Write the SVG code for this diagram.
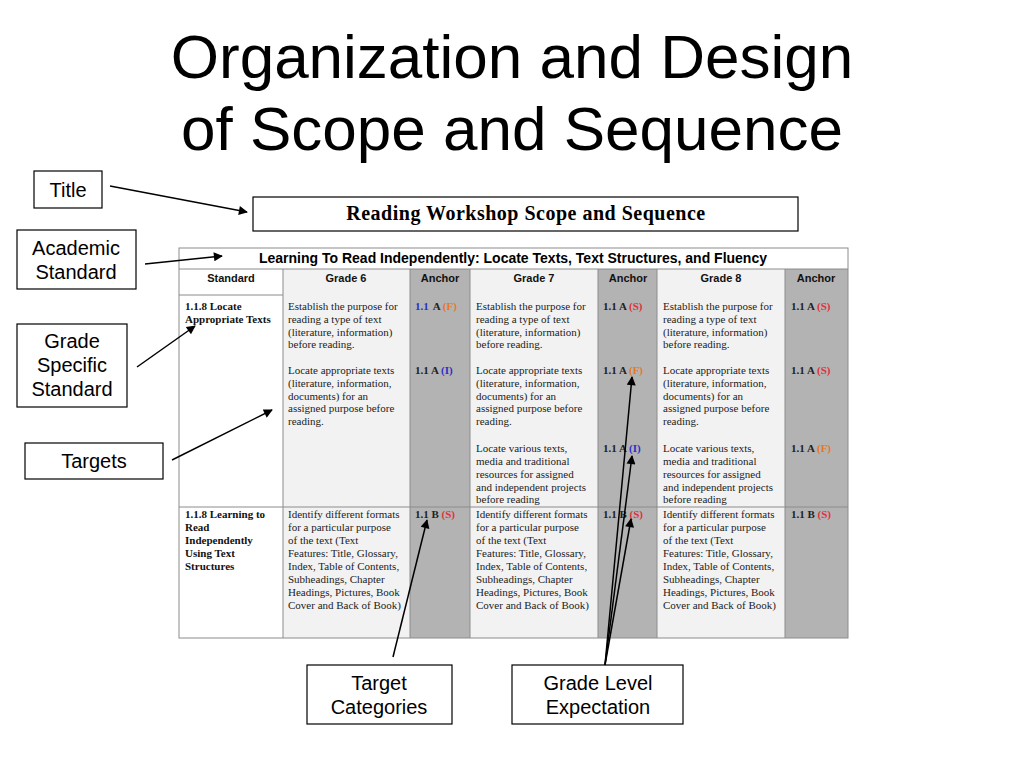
<svg xmlns="http://www.w3.org/2000/svg" width="1024" height="768" viewBox="0 0 1024 768">
<style>
.lbl{font-family:"Liberation Sans",Arial,sans-serif;font-size:20px;fill:#000;text-anchor:middle}
.box{fill:#fff;stroke:#000;stroke-width:1.2}
.body{font-family:"Liberation Serif","Times New Roman",serif;font-size:11px;fill:#222}
.std{font-family:"Liberation Serif","Times New Roman",serif;font-size:11px;font-weight:bold;fill:#111}
.anc{font-family:"Liberation Serif","Times New Roman",serif;font-size:11px;font-weight:bold;fill:#222}
.hdr{font-family:"Liberation Sans",Arial,sans-serif;font-size:11px;font-weight:bold;fill:#111;text-anchor:middle}
.grid{stroke:#8c8c8c;stroke-width:1;fill:none}
.conn{stroke:#000;stroke-width:1.5;fill:none}
.F{fill:#e8772a}.S{fill:#e0303a}.I{fill:#2a30c8}
</style>
<defs>
<marker id="ah" viewBox="0 0 10 10" refX="9" refY="5" markerWidth="11" markerHeight="9" markerUnits="userSpaceOnUse" orient="auto">
<path d="M0,0 L10,5 L0,10 z" fill="#000"/>
</marker>
</defs>
<rect width="1024" height="768" fill="#fff"/>

<g id="heading">
<text x="512" y="78" font-family="Liberation Sans,Arial,sans-serif" font-size="62" text-anchor="middle">Organization and Design</text>
<text x="512" y="150" font-family="Liberation Sans,Arial,sans-serif" font-size="62" text-anchor="middle">of Scope and Sequence</text>
</g>

<g id="title-box">
<rect x="253" y="197" width="545" height="34" class="box"/>
<text x="526" y="220" font-family="Liberation Serif,Times New Roman,serif" font-size="20" font-weight="bold" letter-spacing="0.5" text-anchor="middle">Reading Workshop Scope and Sequence</text>
</g>

<g id="table">
<rect x="179" y="248" width="669" height="390" fill="#fff"/>
<rect x="283" y="269" width="127" height="369" fill="#f2f2f2"/>
<rect x="410" y="269" width="60" height="369" fill="#b3b3b3"/>
<rect x="470" y="269" width="128" height="369" fill="#f2f2f2"/>
<rect x="598" y="269" width="59" height="369" fill="#b3b3b3"/>
<rect x="657" y="269" width="128" height="369" fill="#f2f2f2"/>
<rect x="785" y="269" width="63" height="369" fill="#b3b3b3"/>
<rect x="179" y="248" width="669" height="390" class="grid"/>
<line x1="179" y1="269" x2="848" y2="269" class="grid"/>
<line x1="179" y1="295" x2="283" y2="295" class="grid"/>
<line x1="179" y1="507" x2="848" y2="507" class="grid"/>
<line x1="283" y1="269" x2="283" y2="638" class="grid"/>
<line x1="410" y1="269" x2="410" y2="638" class="grid"/>
<line x1="470" y1="269" x2="470" y2="638" class="grid"/>
<line x1="598" y1="269" x2="598" y2="638" class="grid"/>
<line x1="657" y1="269" x2="657" y2="638" class="grid"/>
<line x1="785" y1="269" x2="785" y2="638" class="grid"/>

<text x="513" y="263" font-family="Liberation Sans,Arial,sans-serif" font-size="14" font-weight="bold" text-anchor="middle">Learning To Read Independently: Locate Texts, Text Structures, and Fluency</text>
<text x="231" y="282" class="hdr">Standard</text>
<text x="346" y="282" class="hdr">Grade 6</text>
<text x="440" y="282" class="hdr">Anchor</text>
<text x="534" y="282" class="hdr">Grade 7</text>
<text x="628" y="282" class="hdr">Anchor</text>
<text x="721" y="282" class="hdr">Grade 8</text>
<text x="816" y="282" class="hdr">Anchor</text>

<g id="col-standard">
<text class="std" x="185" y="310">1.1.8 Locate</text>
<text class="std" x="185" y="323">Appropriate Texts</text>
<text class="std" x="185" y="518">1.1.8  Learning to</text>
<text class="std" x="185" y="531">Read</text>
<text class="std" x="185" y="544">Independently</text>
<text class="std" x="185" y="557">Using Text</text>
<text class="std" x="185" y="570">Structures</text>
</g>

<g id="col-grade6" class="body">
<text x="288" y="310">Establish the purpose for</text>
<text x="288" y="323">reading a type of text</text>
<text x="288" y="336">(literature, information)</text>
<text x="288" y="348">before reading.</text>
<text x="288" y="374">Locate appropriate texts</text>
<text x="288" y="387">(literature, information,</text>
<text x="288" y="400">documents) for an</text>
<text x="288" y="412">assigned purpose before</text>
<text x="288" y="425">reading.</text>
<text x="288" y="518">Identify different formats</text>
<text x="288" y="531">for a particular purpose</text>
<text x="288" y="544">of the text (Text</text>
<text x="288" y="557">Features: Title, Glossary,</text>
<text x="288" y="570">Index, Table of Contents,</text>
<text x="288" y="583">Subheadings, Chapter</text>
<text x="288" y="596">Headings, Pictures, Book</text>
<text x="288" y="609">Cover and Back of Book)</text>
</g>

<g id="col-anchor6" class="anc">
<text x="415" y="310"><tspan class="I">1.1</tspan><tspan dx="4">A </tspan><tspan class="F">(F)</tspan></text>
<text x="415" y="374">1.1 A <tspan class="I">(I)</tspan></text>
<text x="415" y="518">1.1 B <tspan class="S">(S)</tspan></text>
</g>

<g id="col-grade7" class="body">
<text x="476" y="310">Establish the purpose for</text>
<text x="476" y="323">reading a type of text</text>
<text x="476" y="336">(literature, information)</text>
<text x="476" y="348">before reading.</text>
<text x="476" y="374">Locate appropriate texts</text>
<text x="476" y="387">(literature, information,</text>
<text x="476" y="400">documents) for an</text>
<text x="476" y="412">assigned purpose before</text>
<text x="476" y="425">reading.</text>
<text x="476" y="452">Locate various texts,</text>
<text x="476" y="465">media and traditional</text>
<text x="476" y="478">resources for assigned</text>
<text x="476" y="491">and independent projects</text>
<text x="476" y="503">before reading</text>
<text x="476" y="518">Identify different formats</text>
<text x="476" y="531">for a particular purpose</text>
<text x="476" y="544">of the text (Text</text>
<text x="476" y="557">Features: Title, Glossary,</text>
<text x="476" y="570">Index, Table of Contents,</text>
<text x="476" y="583">Subheadings, Chapter</text>
<text x="476" y="596">Headings, Pictures, Book</text>
<text x="476" y="609">Cover and Back of Book)</text>
</g>

<g id="col-anchor7" class="anc">
<text x="603" y="310">1.1 A <tspan class="S">(S)</tspan></text>
<text x="603" y="374">1.1 A <tspan class="F">(F)</tspan></text>
<text x="603" y="452">1.1 A <tspan class="I">(I)</tspan></text>
<text x="603" y="518">1.1 B <tspan class="S">(S)</tspan></text>
</g>

<g id="col-grade8" class="body">
<text x="663" y="310">Establish the purpose for</text>
<text x="663" y="323">reading a type of text</text>
<text x="663" y="336">(literature, information)</text>
<text x="663" y="348">before reading.</text>
<text x="663" y="374">Locate appropriate texts</text>
<text x="663" y="387">(literature, information,</text>
<text x="663" y="400">documents) for an</text>
<text x="663" y="412">assigned purpose before</text>
<text x="663" y="425">reading.</text>
<text x="663" y="452">Locate various texts,</text>
<text x="663" y="465">media and traditional</text>
<text x="663" y="478">resources for assigned</text>
<text x="663" y="491">and independent projects</text>
<text x="663" y="503">before reading</text>
<text x="663" y="518">Identify different formats</text>
<text x="663" y="531">for a particular purpose</text>
<text x="663" y="544">of the text (Text</text>
<text x="663" y="557">Features: Title, Glossary,</text>
<text x="663" y="570">Index, Table of Contents,</text>
<text x="663" y="583">Subheadings, Chapter</text>
<text x="663" y="596">Headings, Pictures, Book</text>
<text x="663" y="609">Cover and Back of Book)</text>
</g>

<g id="col-anchor8" class="anc">
<text x="791" y="310">1.1 A <tspan class="S">(S)</tspan></text>
<text x="791" y="374">1.1 A <tspan class="S">(S)</tspan></text>
<text x="791" y="452">1.1 A <tspan class="F">(F)</tspan></text>
<text x="791" y="518">1.1 B <tspan class="S">(S)</tspan></text>
</g>
</g>

<g id="label-title">
<rect x="34" y="171" width="68" height="37" class="box"/>
<text x="68" y="197" class="lbl">Title</text>
</g>
<g id="label-academic">
<rect x="17" y="230" width="119" height="59" class="box"/>
<text x="76" y="255" class="lbl">Academic</text>
<text x="76" y="279" class="lbl">Standard</text>
</g>
<g id="label-grade-specific">
<rect x="17" y="324" width="110" height="83" class="box"/>
<text x="72" y="348" class="lbl">Grade</text>
<text x="72" y="372" class="lbl">Specific</text>
<text x="72" y="396" class="lbl">Standard</text>
</g>
<g id="label-targets">
<rect x="25" y="443" width="138" height="36" class="box"/>
<text x="94" y="468" class="lbl">Targets</text>
</g>
<g id="label-target-categories">
<rect x="307" y="665" width="145" height="59" class="box"/>
<text x="379" y="690" class="lbl">Target</text>
<text x="379" y="714" class="lbl">Categories</text>
</g>
<g id="label-grade-level">
<rect x="512" y="665" width="171" height="59" class="box"/>
<text x="598" y="690" class="lbl">Grade Level</text>
<text x="598" y="714" class="lbl">Expectation</text>
</g>

<g id="connectors">
<line x1="110" y1="186" x2="247" y2="212" class="conn" marker-end="url(#ah)"/>
<line x1="145" y1="264" x2="222" y2="256" class="conn" marker-end="url(#ah)"/>
<line x1="137" y1="367" x2="195" y2="326" class="conn" marker-end="url(#ah)"/>
<line x1="172" y1="460" x2="272" y2="410" class="conn" marker-end="url(#ah)"/>
<line x1="393" y1="657" x2="427" y2="520" class="conn" marker-end="url(#ah)"/>
<line x1="605" y1="665" x2="632" y2="377" class="conn" marker-end="url(#ah)"/>
<line x1="605" y1="665" x2="632" y2="456" class="conn" marker-end="url(#ah)"/>
<line x1="605" y1="665" x2="631" y2="519" class="conn" marker-end="url(#ah)"/>
</g>
</svg>
